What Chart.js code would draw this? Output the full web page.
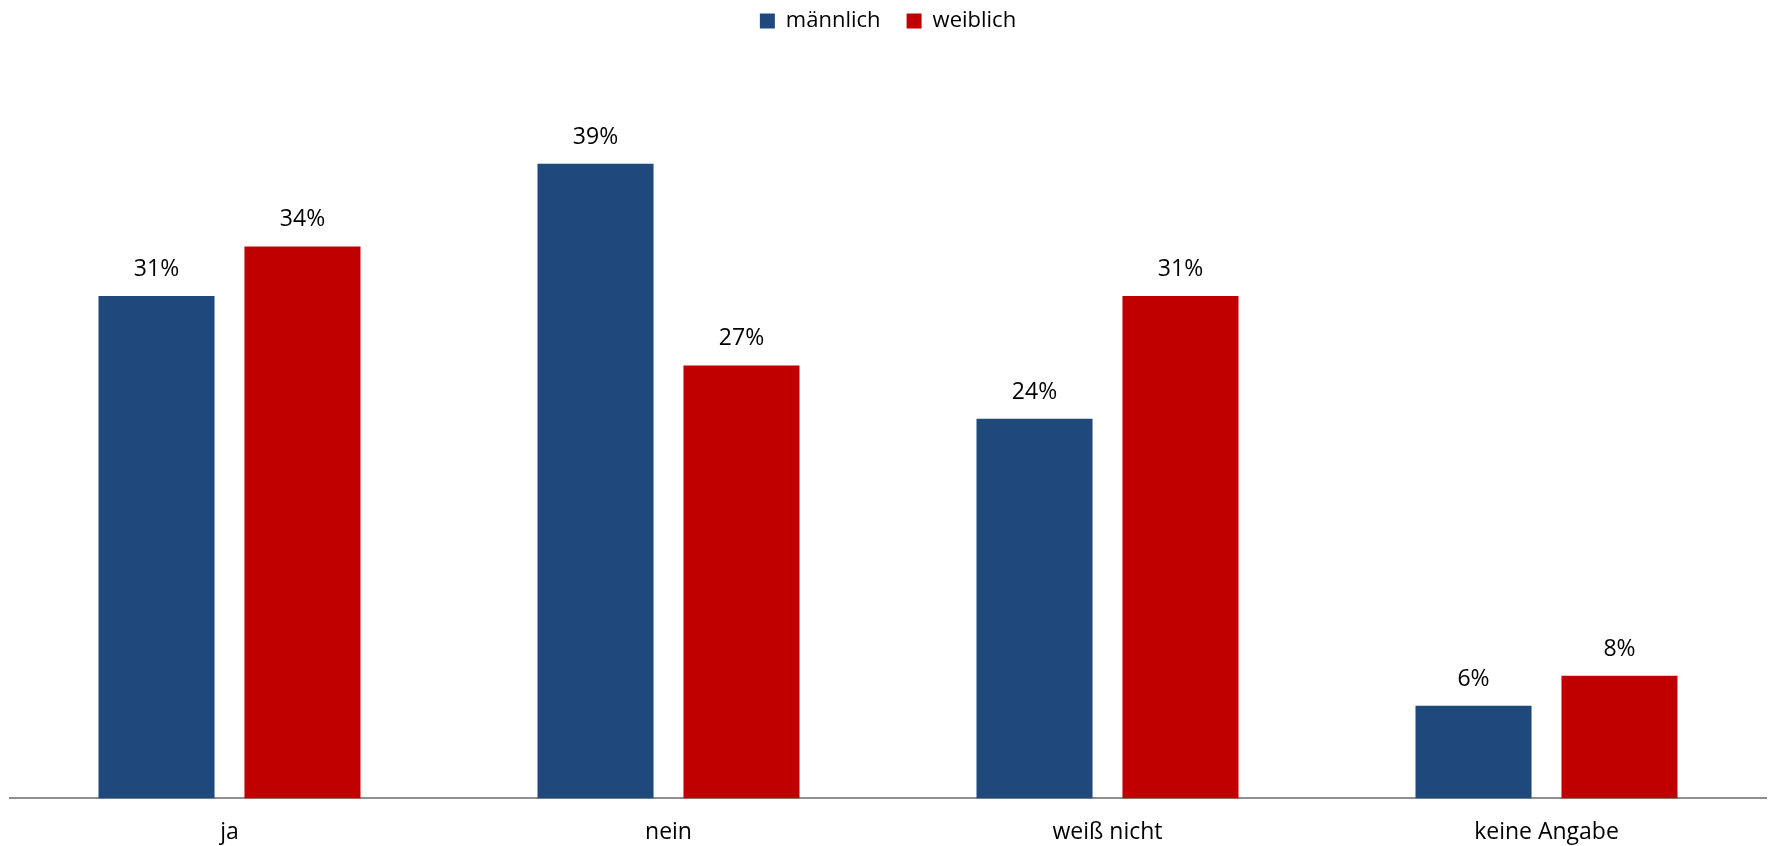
<!DOCTYPE html>
<html>
<head>
<meta charset="utf-8">
<script src="https://cdn.jsdelivr.net/npm/chart.js@4.4.1/dist/chart.umd.min.js"></script>
<style>
  html, body { margin: 0; padding: 0; background: #ffffff; }
  #wrap { width: 1771px; height: 846px; position: relative; }
</style>
</head>
<body>
<div id="wrap"><canvas id="c" width="1771" height="846"></canvas></div>
<script>
const categories = ['ja', 'nein', 'weiß nicht', 'keine Angabe'];
const seriesNames = ['männlich', 'weiblich'];
const maleValues = [31.16, 39.37, 23.55, 5.75];
const femaleValues = [34.24, 26.86, 31.16, 7.61];
const valueLabelsMale = ['31%', '39%', '24%', '6%'];
const valueLabelsFemale = ['34%', '27%', '31%', '8%'];
const yAxisMax = 46.92;

const FONT = "'Open Sans', 'DejaVu Sans', sans-serif";

const dataLabelPlugin = {
  id: 'dataLabels',
  afterDatasetsDraw(chart) {
    const ctx = chart.ctx;
    ctx.save();
    ctx.font = "23px " + FONT;
    ctx.fillStyle = '#000000';
    ctx.textAlign = 'center';
    ctx.textBaseline = 'alphabetic';
    const labelSets = [valueLabelsMale, valueLabelsFemale];
    chart.data.datasets.forEach((ds, di) => {
      const meta = chart.getDatasetMeta(di);
      meta.data.forEach((bar, i) => {
        ctx.fillText(labelSets[di][i], bar.x, bar.y - 20);
      });
    });
    ctx.restore();
  }
};

new Chart(document.getElementById('c'), {
  type: 'bar',
  data: {
    labels: categories,
    datasets: [
      { label: seriesNames[0], data: maleValues, backgroundColor: '#1F497D', borderWidth: 0 },
      { label: seriesNames[1], data: femaleValues, backgroundColor: '#C00000', borderWidth: 0 }
    ]
  },
  options: {
    responsive: false,
    animation: false,
    devicePixelRatio: 1,
    layout: { padding: { left: 10, right: 5, top: -16, bottom: -20 } },
    categoryPercentage: 0.665,
    barPercentage: 0.795,
    plugins: {
      legend: {
        display: true,
        position: 'top',
        labels: {
          boxWidth: 15,
          boxHeight: 15,
          padding: 26,
          color: '#000000',
          font: { family: FONT, size: 22 }
        }
      },
      tooltip: { enabled: false }
    },
    scales: {
      x: {
        grid: { display: false, drawTicks: false },
        border: { display: true, color: '#8E8E8E', width: 2 },
        ticks: { color: '#000000', font: { family: FONT, size: 23 }, padding: 20 }
      },
      y: {
        display: false,
        min: 0,
        max: yAxisMax,
        grid: { display: false }
      }
    }
  },
  plugins: [dataLabelPlugin]
});
</script>
</body>
</html>
